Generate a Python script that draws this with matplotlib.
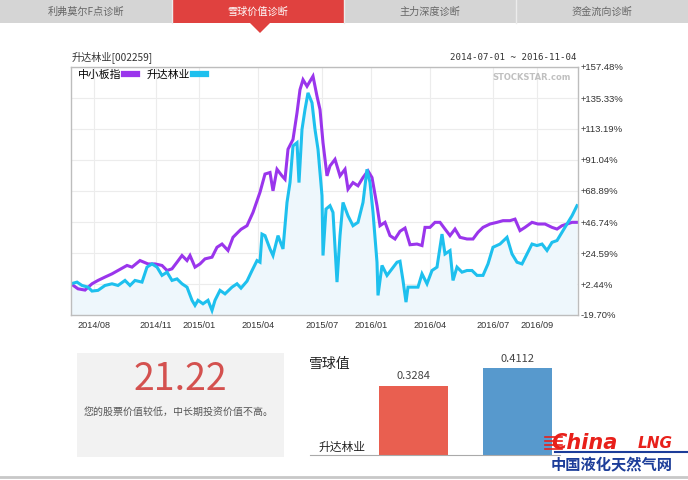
import matplotlib
matplotlib.use('Agg')
import matplotlib.pyplot as plt
from matplotlib.patches import Rectangle, Polygon
from matplotlib.lines import Line2D

plt.rcParams['font.family'] = ['Noto Sans CJK SC', 'DejaVu Sans']

# ---- data ----
tabs = ['利弗莫尔F点诊断', '雪球价值诊断', '主力深度诊断', '资金流向诊断']
stock_name = '升达林业'
stock_code = '002259'
index_name = '中小板指'
date_range = '2014-07-01 ~ 2016-11-04'

# x = trading day index, y = cumulative change in %
index_day = [0, 7, 14, 21, 27, 34, 41, 47, 56, 61, 69, 77, 84, 91, 96, 101, 106, 111, 116, 119,
             124, 129, 134, 141, 146, 151, 157, 162, 167, 170, 176, 182, 189, 194, 199, 202, 206,
             211, 214, 217, 222, 226, 229, 232, 236, 239, 242, 246, 249, 252, 256, 259, 264, 269,
             274, 277, 282, 287, 292, 297, 301, 306, 309, 314, 319, 324, 329, 334, 339, 346, 351,
             354, 359, 364, 369, 374, 379, 384, 389, 396, 402, 407, 412, 419, 426, 432, 439, 444,
             449, 454, 461, 467, 474, 481, 486, 491, 496, 501, 506]
index_val = [2.6, -1.0, -1.9, 2.6, 5.0, 7.4, 9.7, 12.1, 15.7, 14.5, 19.2, 16.8, 16.8, 15.7, 12.1,
             13.3, 18.0, 22.8, 19.2, 22.8, 14.5, 16.8, 20.4, 21.6, 28.7, 31.0, 26.4, 35.8, 39.4,
             41.5, 44.1, 53.6, 68.0, 81.0, 82.1, 69.0, 84.4, 79.7, 77.3, 98.7, 105.7, 124.7,
             141.3, 148.4, 143.7, 147.3, 150.9, 136.6, 127.1, 103.4, 79.7, 86.8, 91.5, 79.7,
             84.4, 70.2, 74.9, 72.6, 78.5, 83.3, 78.5, 58.4, 44.1, 46.5, 37.0, 34.6, 40.1, 42.4,
             30.5, 31.0, 29.9, 42.9, 42.9, 46.5, 46.5, 41.7, 37.0, 41.7, 35.8, 34.6, 34.6, 39.4,
             42.9, 45.3, 46.5, 47.7, 47.7, 48.8, 40.6, 42.9, 46.5, 45.3, 45.3, 42.9, 41.7, 44.1,
             45.3, 46.5, 46.5]

stock_day = [0, 6, 11, 17, 21, 27, 34, 41, 47, 54, 59, 64, 71, 76, 81, 86, 91, 96, 101, 106, 111,
             116, 121, 124, 127, 132, 137, 141, 144, 149, 154, 161, 166, 170, 176, 181, 186, 189,
             191, 194, 199, 202, 207, 212, 216, 219, 222, 226, 228, 231, 234, 237, 241, 244, 247,
             251, 252, 255, 259, 262, 266, 269, 272, 277, 282, 287, 292, 296, 299, 302, 306, 307,
             311, 316, 321, 326, 329, 332, 335, 337, 342, 347, 351, 356, 361, 366, 371, 374, 379,
             382, 386, 391, 396, 401, 406, 412, 417, 422, 429, 436, 441, 446, 451, 456, 461, 466,
             471, 476, 481, 486, 491, 496, 501, 506]
stock_val = [2.6, 3.8, 1.4, 0.2, -2.6, -2.1, 1.4, 2.6, 1.4, 5.0, 1.4, 5.0, 3.8, 14.5, 16.8, 14.5,
             8.6, 10.9, 5.0, 6.1, 2.6, 0.2, -9.2, -12.8, -9.2, -11.7, -9.2, -16.4, -9.2, -2.1,
             -4.6, 0.2, 2.6, -0.5, 4.5, 12.0, 19.2, 18.0, 38.1, 37.0, 27.5, 22.8, 37.0, 27.5,
             60.7, 74.9, 101.1, 103.4, 74.9, 112.9, 127.1, 139.0, 131.9, 112.9, 98.7, 65.5, 22.8,
             56.0, 58.4, 53.6, 3.8, 37.0, 60.7, 51.2, 44.1, 46.5, 60.7, 84.4, 74.9, 53.6, 18.0,
             -5.7, 15.7, 8.6, 13.3, 18.0, 18.7, 5.0, -10.5, 0.2, 0.2, 0.2, 9.7, 2.6, 12.1, 14.5,
             38.1, 23.9, 26.3, 5.0, 14.5, 10.9, 12.1, 12.1, 8.6, 8.6, 16.8, 28.7, 31.0, 35.8,
             23.9, 18.0, 16.8, 23.9, 31.0, 29.9, 31.0, 26.4, 32.2, 33.5, 39.4, 45.3, 51.2, 58.4]

tick_day = [23, 85, 128, 187, 251, 300, 359, 422, 466]
tick_labels = ['2014/08', '2014/11', '2015/01', '2015/04', '2015/07', '2016/01', '2016/04',
               '2016/07', '2016/09']
y_ticks = [-19.70, 2.44, 24.59, 46.74, 68.89, 91.04, 113.19, 135.33, 157.48]

score = 21.22
score_note = '您的股票价值较低，中长期投资价值不高。'
snow_values = [0.3284, 0.4112]

purple = '#9a35ec'
cyan = '#1ec0ee'

fig = plt.figure(figsize=(6.88, 4.8), dpi=100)

# background layer in pixel coordinates
bg = fig.add_axes([0, 0, 1, 1], zorder=0)
bg.set_xlim(0, 688)
bg.set_ylim(480, 0)
bg.axis('off')

tab_w = 688 / 4
for i, t in enumerate(tabs):
    active = i == 1
    bg.add_patch(Rectangle((i * tab_w, 0), tab_w, 23, fc='#e0413f' if active else '#d5d5d5',
                           ec='none'))
    if i > 0:
        bg.plot([i * tab_w, i * tab_w], [0, 23], color='#ececec', lw=1)
    bg.text(i * tab_w + tab_w / 2, 11.5, t, ha='center', va='center', fontsize=7.3,
            color='white' if active else '#666666')
bg.add_patch(Polygon([(250, 23), (270, 23), (260, 33)], fc='#e0413f', ec='none'))

bg.text(72, 57, stock_name + '[' + stock_code + ']', ha='left', va='center', fontsize=7.3,
        color='#333333')
bg.text(577, 57, date_range, ha='right', va='center', fontsize=6.6, color='#333333',
        family='DejaVu Sans Mono')

# score box
bg.add_patch(Rectangle((77, 353), 207, 104, fc='#f2f2f2', ec='none'))
bg.text(180, 380, f'{score:.2f}', ha='center', va='center', fontsize=27, color='#d4514f')
bg.text(179, 412, score_note, ha='center', va='center', fontsize=7.2, color='#555555')

bg.text(309, 364, '雪球值', ha='left', va='center', fontsize=10, color='#222222')
bg.text(342, 447, stock_name, ha='center', va='center', fontsize=8.5, color='#222222')

# main line chart
ax = fig.add_axes([71 / 688, 1 - 315 / 480, 507 / 688, 248 / 480], zorder=1)
ax.fill_between(stock_day, stock_val, y_ticks[0], color='#eef7fc', lw=0)
ax.plot(index_day, index_val, color=purple, lw=2.2, solid_joinstyle='miter')
ax.plot(stock_day, stock_val, color=cyan, lw=2.2, solid_joinstyle='miter')
ax.set_xlim(0, 507)
ax.set_ylim(y_ticks[0], y_ticks[-1])
ax.yaxis.tick_right()
ax.set_yticks(y_ticks, [f'{v:+.2f}%' for v in y_ticks], fontsize=6.8, color='#333333',
              family='Liberation Sans')
ax.set_xticks(tick_day, tick_labels, fontsize=6.6, color='#333333', family='Liberation Sans')
ax.tick_params(length=0)
ax.tick_params(axis='y', pad=2)
ax.tick_params(axis='x', pad=4)
ax.grid(True, color='#ececec', lw=0.8)
ax.set_axisbelow(True)
for s in ax.spines.values():
    s.set_color('#bdbdbd')
    s.set_linewidth(1)
handles = [Line2D([], [], color=purple, lw=4.5), Line2D([], [], color=cyan, lw=4.5)]
ax.legend(handles, [index_name, stock_name], loc='upper left', bbox_to_anchor=(0.014, 0.99),
          ncol=2, markerfirst=False, frameon=False, fontsize=7.8, handlelength=1.25,
          handletextpad=0.2, columnspacing=0.9, borderaxespad=0, borderpad=0)
ax.text(0.985, 0.975, 'STOCKSTAR.com', transform=ax.transAxes, ha='right', va='top',
        fontsize=6, color='#c0c0c0', weight='bold', family='DejaVu Sans')

# snowball bar chart
bx = fig.add_axes([310 / 688, 1 - 455 / 480, 250 / 688, 100 / 480], zorder=1)
bx.patch.set_alpha(0)
bars = bx.bar([0, 1], snow_values, width=0.663, color=['#e95f50', '#5799cd'])
bx.bar_label(bars, fmt='%.4f', padding=3, fontsize=8, color='#444444')
bx.set_xlim(-0.995, 1.409)
bx.set_ylim(0, 0.4726)
bx.set_xticks([])
bx.set_yticks([])
for k in ['left', 'right', 'top']:
    bx.spines[k].set_visible(False)
bx.spines['bottom'].set_color('#aaaaaa')

# watermark logo + bottom rule
top = fig.add_axes([0, 0, 1, 1], zorder=5)
top.set_xlim(0, 688)
top.set_ylim(480, 0)
top.axis('off')
top.plot([0, 688], [477, 477], color='#c8c8c8', lw=2)
for yy in [437, 441, 445, 449]:
    top.plot([545, 562], [yy, yy], color='#e8201a', lw=1.2)
top.text(551, 443, 'China', ha='left', va='center', fontsize=15, color='#e8201a',
         weight='bold', style='italic', family='DejaVu Sans')
top.text(638, 444, 'LNG', ha='left', va='center', fontsize=11, color='#e8201a',
         weight='bold', style='italic', family='DejaVu Sans')
top.plot([555, 688], [452, 452], color='#1c3d99', lw=1.5)
top.text(612, 465, '中国液化天然气网', ha='center', va='center', fontsize=11,
         color='#1c3d99', weight='bold')

fig.savefig('out.png', dpi=100)
